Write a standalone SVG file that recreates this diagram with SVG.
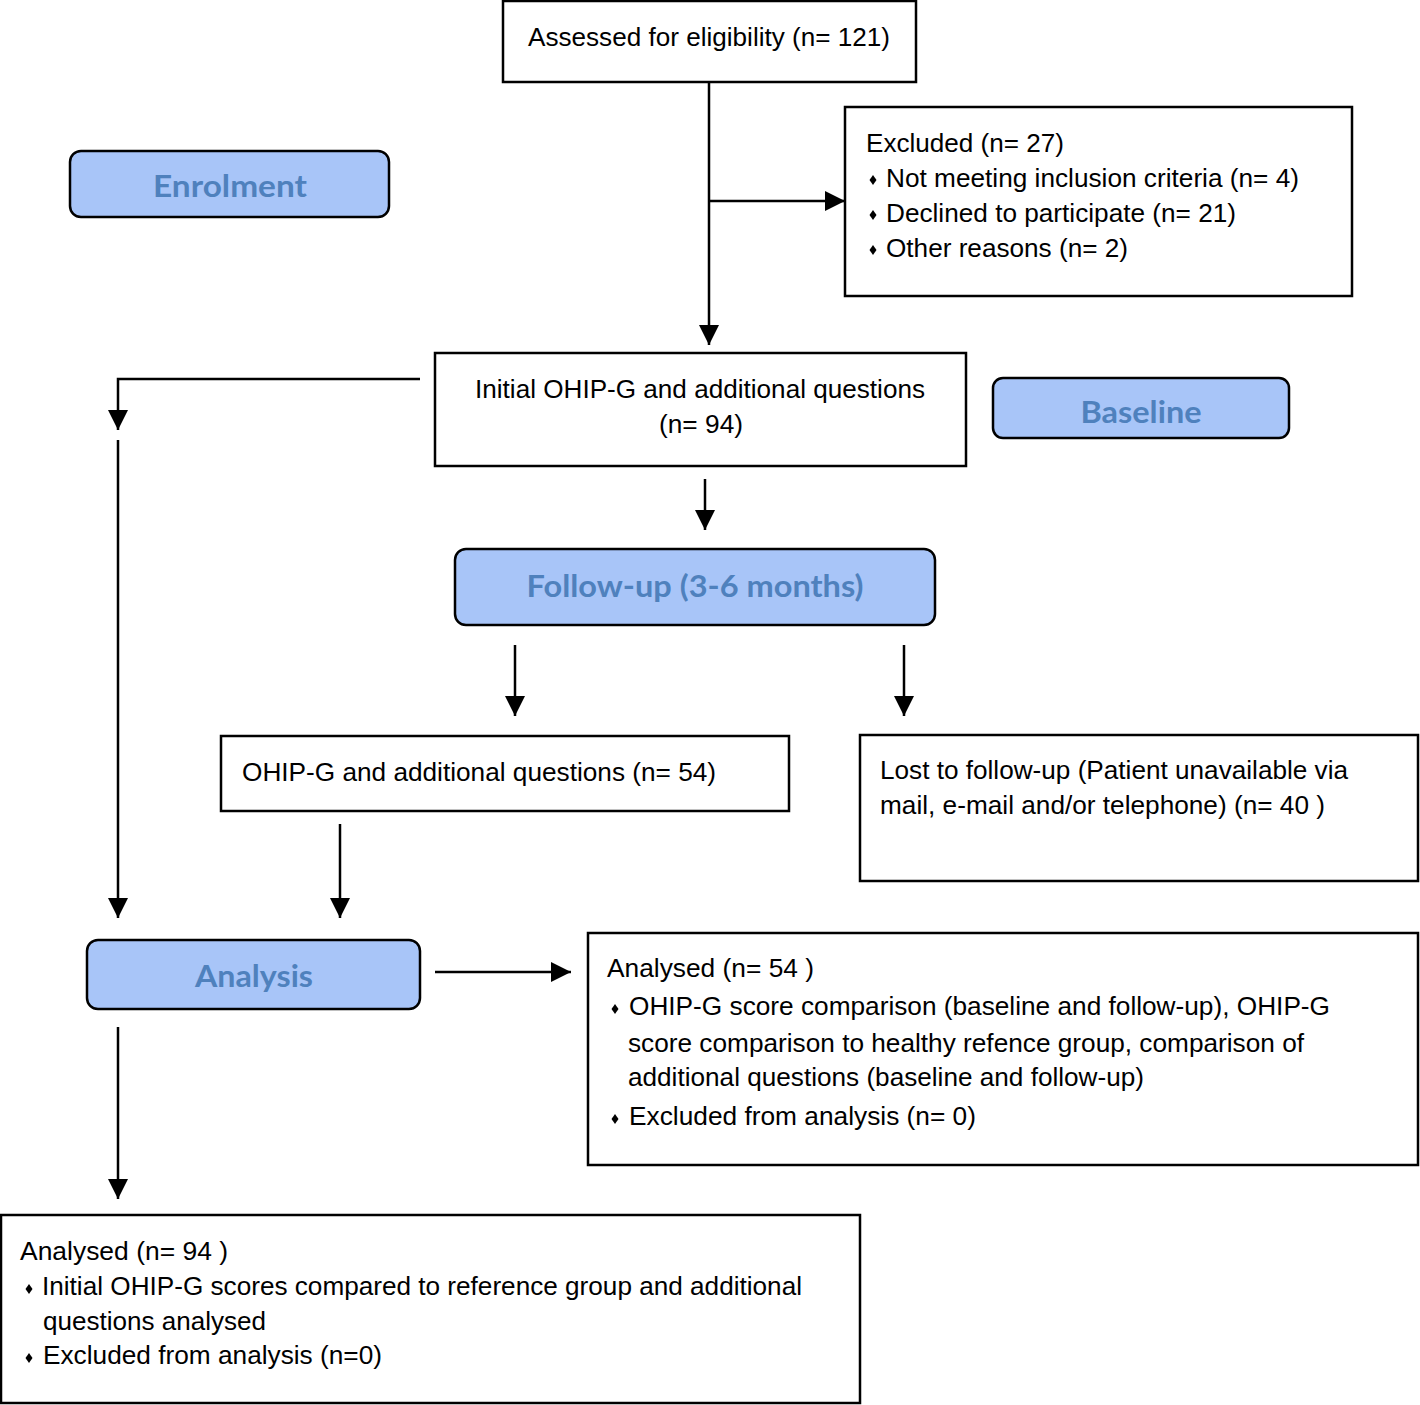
<svg xmlns="http://www.w3.org/2000/svg" width="1420" height="1405" viewBox="0 0 1420 1405">
<style>
.box{fill:#fff;stroke:#000;stroke-width:2.5}
.stage{fill:#a8c5f8;stroke:#000;stroke-width:2.5}
.t{font-family:"Liberation Sans",Arial,sans-serif;font-size:26px;fill:#000}
.h{font-family:Lato,"Open Sans",sans-serif;font-weight:bold;font-size:31px;fill:#4f81bd;text-anchor:middle}
.c{fill:none;stroke:#000;stroke-width:2.5}
</style>
<defs>
<marker id="ah" markerWidth="8" markerHeight="8" refX="8" refY="4" orient="auto" markerUnits="strokeWidth">
<path d="M0,0 L8,4 L0,8 Z" fill="#000"/>
</marker>
<path id="dia" d="M0,-5 L3.5,0 L0,5 L-3.5,0 Z" fill="#000"/>
</defs>
<rect width="1420" height="1405" fill="#fff"/>
<g id="connectors">
<path class="c" d="M709,82 V345" marker-end="url(#ah)"/>
<path class="c" d="M709,201 H845" marker-end="url(#ah)"/>
<path class="c" d="M420,379 H118 V430" marker-end="url(#ah)"/>
<path class="c" d="M118,440 V918" marker-end="url(#ah)"/>
<path class="c" d="M705,479 V530" marker-end="url(#ah)"/>
<path class="c" d="M515,645 V716" marker-end="url(#ah)"/>
<path class="c" d="M904,645 V716" marker-end="url(#ah)"/>
<path class="c" d="M340,824 V918" marker-end="url(#ah)"/>
<path class="c" d="M435,972 H571" marker-end="url(#ah)"/>
<path class="c" d="M118,1027 V1199" marker-end="url(#ah)"/>
</g>
<g id="assessed">
<rect class="box" x="503" y="1" width="413" height="81"/>
<text class="t" x="528" y="46" textLength="362" lengthAdjust="spacingAndGlyphs">Assessed for eligibility (n= 121)</text>
</g>
<g id="excluded">
<rect class="box" x="845" y="107" width="507" height="189"/>
<text class="t" x="866" y="152" textLength="198" lengthAdjust="spacingAndGlyphs">Excluded (n= 27)</text>
<use href="#dia" x="873" y="180"/>
<text class="t" x="886" y="187" textLength="413" lengthAdjust="spacingAndGlyphs">Not meeting inclusion criteria (n= 4)</text>
<use href="#dia" x="873" y="215"/>
<text class="t" x="886" y="222" textLength="350" lengthAdjust="spacingAndGlyphs">Declined to participate (n= 21)</text>
<use href="#dia" x="873" y="250"/>
<text class="t" x="886" y="257" textLength="242" lengthAdjust="spacingAndGlyphs">Other reasons (n= 2)</text>
</g>
<g id="enrolment">
<rect class="stage" x="70" y="151" width="319" height="66" rx="11"/>
<text class="h" x="230" y="197" textLength="154" lengthAdjust="spacingAndGlyphs">Enrolment</text>
</g>
<g id="initial">
<rect class="box" x="435" y="353" width="531" height="113"/>
<text class="t" x="475" y="398" textLength="450" lengthAdjust="spacingAndGlyphs">Initial OHIP-G and additional questions</text>
<text class="t" x="659" y="433" textLength="84" lengthAdjust="spacingAndGlyphs">(n= 94)</text>
</g>
<g id="baseline">
<rect class="stage" x="993" y="378" width="296" height="60" rx="10"/>
<text class="h" x="1141" y="423" textLength="121" lengthAdjust="spacingAndGlyphs">Baseline</text>
</g>
<g id="followup">
<rect class="stage" x="455" y="549" width="480" height="76" rx="11"/>
<text class="h" x="695" y="597" textLength="337" lengthAdjust="spacingAndGlyphs">Follow-up (3-6 months)</text>
</g>
<g id="ohipg">
<rect class="box" x="221" y="736" width="568" height="75"/>
<text class="t" x="242" y="781" textLength="474" lengthAdjust="spacingAndGlyphs">OHIP-G and additional questions (n= 54)</text>
</g>
<g id="lost">
<rect class="box" x="860" y="735" width="558" height="146"/>
<text class="t" x="880" y="779" textLength="468" lengthAdjust="spacingAndGlyphs">Lost to follow-up (Patient unavailable via</text>
<text class="t" x="880" y="814" textLength="445" lengthAdjust="spacingAndGlyphs">mail, e-mail and/or telephone) (n= 40 )</text>
</g>
<g id="analysis">
<rect class="stage" x="87" y="940" width="333" height="69" rx="11"/>
<text class="h" x="254" y="987" textLength="118" lengthAdjust="spacingAndGlyphs">Analysis</text>
</g>
<g id="analysed54">
<rect class="box" x="588" y="933" width="830" height="232"/>
<text class="t" x="607" y="977" textLength="207" lengthAdjust="spacingAndGlyphs">Analysed (n= 54 )</text>
<use href="#dia" x="615" y="1009"/>
<text class="t" x="629" y="1015" textLength="701" lengthAdjust="spacingAndGlyphs">OHIP-G score comparison (baseline and follow-up), OHIP-G</text>
<text class="t" x="628" y="1052" textLength="676" lengthAdjust="spacingAndGlyphs">score comparison to healthy refence group, comparison of</text>
<text class="t" x="628" y="1086" textLength="516" lengthAdjust="spacingAndGlyphs">additional questions (baseline and follow-up)</text>
<use href="#dia" x="615" y="1119"/>
<text class="t" x="629" y="1125" textLength="347" lengthAdjust="spacingAndGlyphs">Excluded from analysis (n= 0)</text>
</g>
<g id="analysed94">
<rect class="box" x="1" y="1215" width="859" height="188"/>
<text class="t" x="20" y="1260" textLength="208" lengthAdjust="spacingAndGlyphs">Analysed (n= 94 )</text>
<use href="#dia" x="29" y="1289"/>
<text class="t" x="42" y="1295" textLength="760" lengthAdjust="spacingAndGlyphs">Initial OHIP-G scores compared to reference group and additional</text>
<text class="t" x="43" y="1330" textLength="223" lengthAdjust="spacingAndGlyphs">questions analysed</text>
<use href="#dia" x="29" y="1358"/>
<text class="t" x="43" y="1364" textLength="339" lengthAdjust="spacingAndGlyphs">Excluded from analysis (n=0)</text>
</g>
</svg>
